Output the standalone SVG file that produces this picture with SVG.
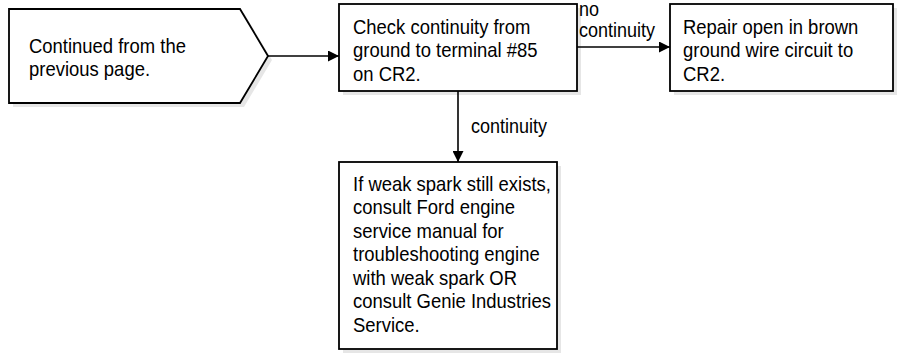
<svg xmlns="http://www.w3.org/2000/svg" width="897" height="353" viewBox="0 0 897 353">
<style>
  .shadow { fill: #e6e6e6; stroke: none; }
  .box { fill: #ffffff; stroke: #000000; stroke-width: 1.8; }
  .t { font-family: "Liberation Sans", Arial, sans-serif; font-size: 20.5px; fill: #000000; }
  .lbl { font-family: "Liberation Sans", Arial, sans-serif; font-size: 20px; fill: #000000; }
  .conn { stroke: #000000; stroke-width: 1.6; fill: none; marker-end: url(#arrow); }
</style>
<defs>
  <marker id="arrow" viewBox="0 0 10 10" refX="10" refY="5" markerWidth="12" markerHeight="11" markerUnits="userSpaceOnUse" orient="auto">
    <path d="M0,0 L10,5 L0,10 Z" fill="#000000"/>
  </marker>
</defs>
<rect width="897" height="353" fill="#ffffff"/>

<g id="node-start">
  <polygon class="shadow" points="13,13 244,13 272,60 244,107 13,107"/>
  <polygon class="box" points="9,9 240,9 268,56 240,103 9,103"/>
  <g transform="translate(29,0) scale(0.9,1)">
    <text class="t" x="0" y="53">Continued from the</text>
    <text class="t" x="0" y="76.5">previous page.</text>
  </g>
</g>

<g id="node-check">
  <rect class="shadow" x="343" y="8" width="238" height="87"/>
  <rect class="box" x="339" y="4" width="238" height="87"/>
  <g transform="translate(353,0) scale(0.9,1)">
    <text class="t" x="0" y="34">Check continuity from</text>
    <text class="t" x="0" y="57.5">ground to terminal #85</text>
    <text class="t" x="0" y="81">on CR2.</text>
  </g>
</g>

<g id="node-repair">
  <rect class="shadow" x="674" y="8" width="223" height="87"/>
  <rect class="box" x="670" y="4" width="223" height="87"/>
  <g transform="translate(683,0) scale(0.9,1)">
    <text class="t" x="0" y="34">Repair open in brown</text>
    <text class="t" x="0" y="57.5">ground wire circuit to</text>
    <text class="t" x="0" y="81">CR2.</text>
  </g>
</g>

<g id="node-weak">
  <rect class="shadow" x="343" y="166" width="218" height="187"/>
  <rect class="box" x="339" y="162" width="218" height="187"/>
  <g transform="translate(353,0) scale(0.9,1)">
    <text class="t" x="0" y="191">If weak spark still exists,</text>
    <text class="t" x="0" y="214.5">consult Ford engine</text>
    <text class="t" x="0" y="238">service manual for</text>
    <text class="t" x="0" y="261.5">troubleshooting engine</text>
    <text class="t" x="0" y="285">with weak spark OR</text>
    <text class="t" x="0" y="308.5">consult Genie Industries</text>
    <text class="t" x="0" y="332">Service.</text>
  </g>
</g>

<g id="connectors">
  <line class="conn" x1="268" y1="56" x2="339" y2="56"/>
  <line class="conn" x1="577" y1="47" x2="670" y2="47"/>
  <line class="conn" x1="458" y1="91" x2="458" y2="162"/>
  <g transform="translate(579,0) scale(0.9,1)">
    <text class="lbl" x="0" y="16">no</text>
    <text class="lbl" x="0" y="37">continuity</text>
  </g>
  <g transform="translate(471,0) scale(0.9,1)">
    <text class="lbl" x="0" y="133">continuity</text>
  </g>
</g>
</svg>
